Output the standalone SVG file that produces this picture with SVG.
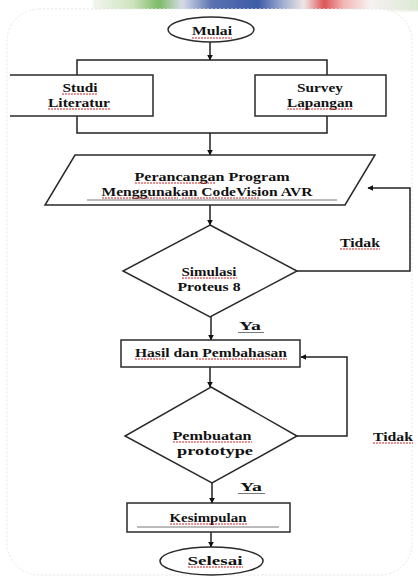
<svg xmlns="http://www.w3.org/2000/svg" width="418" height="576" viewBox="0 0 418 576">
<style>
.s{fill:none;stroke:#2a2a2a;stroke-width:1.5}
.t{fill:none;stroke:#555;stroke-width:0.8}
.c{stroke:#222;stroke-width:1.5;fill:none}
.tx{font-family:"Liberation Serif","Times New Roman",serif;font-weight:bold;font-size:13px;fill:#111;text-anchor:middle}
.sq{fill:none;stroke:#d42020;stroke-width:1.1;stroke-dasharray:2 1}
</style>
<defs>
<marker id="ah" viewBox="0 0 10 10" refX="9" refY="5" markerWidth="6" markerHeight="6" orient="auto" markerUnits="userSpaceOnUse">
<path d="M0,0 L10,5 L0,10 z" fill="#111"/>
</marker>
<linearGradient id="strip" x1="0" y1="0" x2="1" y2="0">
<stop offset="0" stop-color="#f2f6ee"/>
<stop offset="0.12" stop-color="#cfe3c0"/>
<stop offset="0.2" stop-color="#7cbb66"/>
<stop offset="0.27" stop-color="#d6dce8"/>
<stop offset="0.36" stop-color="#5b72b2"/>
<stop offset="0.5" stop-color="#3e5ba6"/>
<stop offset="0.58" stop-color="#a7b3d3"/>
<stop offset="0.64" stop-color="#f0e6e6"/>
<stop offset="0.7" stop-color="#dd5555"/>
<stop offset="0.76" stop-color="#f2b6b6"/>
<stop offset="0.84" stop-color="#f6f2f2"/>
<stop offset="1" stop-color="#d9e8cf"/>
</linearGradient>
<filter id="bl" x="-5%" y="-50%" width="110%" height="200%"><feGaussianBlur stdDeviation="1"/></filter>
</defs>
<rect width="418" height="576" fill="#fff"/>
<rect x="93" y="-2" width="330" height="13" fill="url(#strip)" filter="url(#bl)"/>
<rect x="7" y="9" width="405" height="566" rx="32" fill="#fff" stroke="#e6e6e6" stroke-width="1" stroke-dasharray="2 2"/>

<g id="connectors">
<line class="c" x1="210" y1="42" x2="210" y2="60" marker-end="url(#ah)"/>
<path class="c" d="M77,75 V60 H327 V75"/>
<path class="c" d="M77,116 V133 H327 V116"/>
<line class="c" x1="210" y1="133" x2="210" y2="155" marker-end="url(#ah)"/>
<line class="c" x1="210" y1="205" x2="210" y2="225" marker-end="url(#ah)"/>
<path class="c" d="M297,271 H410 V188 H368" marker-end="url(#ah)"/>
<line class="c" x1="211" y1="317" x2="211" y2="340" marker-end="url(#ah)"/>
<line class="c" x1="210" y1="367" x2="210" y2="387" marker-end="url(#ah)"/>
<path class="c" d="M297,436 H347 V357 H301" marker-end="url(#ah)"/>
<line class="c" x1="212" y1="483" x2="212" y2="503" marker-end="url(#ah)"/>
<line class="c" x1="211" y1="532" x2="211" y2="547" marker-end="url(#ah)"/>
</g>

<g id="mulai">
<ellipse class="s" cx="211" cy="29.5" rx="43" ry="12.5" fill="#fff"/>
<text class="tx" x="212" y="35" textLength="40" lengthAdjust="spacingAndGlyphs">Mulai</text>
<path class="sq" d="M192,38 H232"/>
</g>

<g id="studi">
<path class="s" d="M10,75 H153 V116 H10"/>
<text class="tx" x="80" y="92" textLength="35" lengthAdjust="spacingAndGlyphs">Studi</text>
<text class="tx" x="79" y="107" textLength="62" lengthAdjust="spacingAndGlyphs">Literatur</text>
<path class="sq" d="M62,94 H97 M48,109 H110"/>
</g>

<g id="survey">
<rect class="s" x="255" y="75" width="131" height="41"/>
<text class="tx" x="320" y="92" textLength="46" lengthAdjust="spacingAndGlyphs">Survey</text>
<text class="tx" x="320" y="107" textLength="66" lengthAdjust="spacingAndGlyphs">Lapangan</text>
<path class="sq" d="M287,109 H353"/>
</g>

<g id="perancangan">
<path class="s" d="M75,155 H375 L345,205 H45 Z"/>
<line class="t" x1="87" y1="200" x2="337" y2="200"/>
<text class="tx" x="212" y="181" textLength="155" lengthAdjust="spacingAndGlyphs">Perancangan Program</text>
<text class="tx" x="207" y="196" textLength="211" lengthAdjust="spacingAndGlyphs">Menggunakan CodeVision AVR</text>
<path class="sq" d="M135,183 H215 M102,198 H178 M182,198 H260"/>
</g>

<g id="simulasi">
<path class="s" d="M210,225 L297,271 L210,317 L123,271 Z" fill="#fff"/>
<text class="tx" x="209" y="276" textLength="55" lengthAdjust="spacingAndGlyphs">Simulasi</text>
<text class="tx" x="209" y="291" textLength="63" lengthAdjust="spacingAndGlyphs">Proteus 8</text>
<path class="sq" d="M182,278 H237"/>
</g>

<g id="hasil">
<rect class="s" x="121" y="340" width="179" height="27"/>
<text class="tx" x="211" y="357" textLength="152" lengthAdjust="spacingAndGlyphs">Hasil dan Pembahasan</text>
<path class="sq" d="M135,359 H166 M196,359 H287"/>
</g>

<g id="pembuatan">
<path class="s" d="M211,387 L297,436 L212,483 L125,436 Z" fill="#fff"/>
<text class="tx" x="212" y="440" textLength="79" lengthAdjust="spacingAndGlyphs">Pembuatan</text>
<text class="tx" x="215" y="455" textLength="76" lengthAdjust="spacingAndGlyphs">prototype</text>
<path class="sq" d="M173,442 H252"/>
</g>

<g id="kesimpulan">
<rect class="s" x="127" y="503" width="163" height="29"/>
<line class="t" x1="137" y1="527" x2="279" y2="527"/>
<text class="tx" x="208" y="522" textLength="77" lengthAdjust="spacingAndGlyphs">Kesimpulan</text>
<path class="sq" d="M170,524 H247"/>
</g>

<g id="selesai">
<ellipse class="s" cx="211.5" cy="561" rx="51.5" ry="14" fill="#fff"/>
<text class="tx" x="215" y="565" textLength="55" lengthAdjust="spacingAndGlyphs">Selesai</text>
<path class="sq" d="M188,567 H243"/>
</g>

<g id="labels">
<text class="tx" x="360" y="247" textLength="40" lengthAdjust="spacingAndGlyphs">Tidak</text>
<path class="sq" d="M340,249 H380"/>
<text class="tx" x="250" y="330" textLength="22" lengthAdjust="spacingAndGlyphs">Ya</text>
<line class="t" x1="238" y1="332.5" x2="264" y2="332.5"/>
<text class="tx" x="393" y="441" textLength="40" lengthAdjust="spacingAndGlyphs">Tidak</text>
<path class="sq" d="M373,443 H413"/>
<text class="tx" x="251" y="491" textLength="22" lengthAdjust="spacingAndGlyphs">Ya</text>
<line class="t" x1="238" y1="493.5" x2="265" y2="493.5"/>
</g>
</svg>
